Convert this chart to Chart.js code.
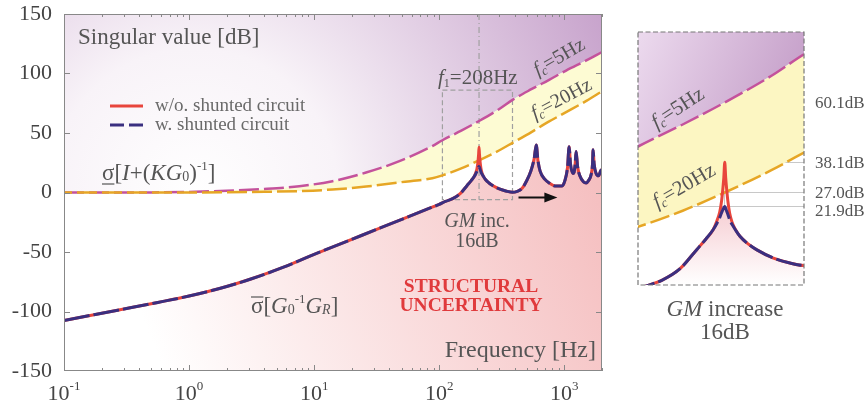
<!DOCTYPE html>
<html>
<head>
<meta charset="utf-8">
<script src="https://cdn.jsdelivr.net/npm/chart.js@4.4.1/dist/chart.umd.min.js"></script>
<style>
  body { margin: 0; background: #fff; }
  #mainBox { position: absolute; left: 0; top: 0; width: 620px; height: 405px; }
  #zoomBox { position: absolute; left: 620px; top: 0; width: 246px; height: 405px; }
</style>
</head>
<body>
<div id="mainBox"><canvas id="mainChart"></canvas></div>
<div id="zoomBox"><canvas id="zoomChart"></canvas></div>
<script>
// stability margin curves sigma_min[I+(KG0)^-1] for two cut-off frequencies
const freqMargin = [0.1, 0.5, 1, 2, 4, 7.6, 14, 26, 48, 88, 106, 150, 208, 300, 385, 550, 750, 1033, 1500, 2000];
const margin5Hz  = [0, 0.1, 0.5, 1.5, 3, 5.3, 9.5, 16.8, 26.3, 39, 43.9, 52, 60.1, 70, 77.8, 87, 94.5, 102.5, 111, 118];
const margin20Hz = [0, 0, 0, 0.2, 0.6, 1.2, 2.5, 5, 8.5, 12, 14.4, 20.3, 27, 35.3, 41.7, 51, 59.5, 67.5, 77, 85];

// sigma_max[G0^-1 GR], with and without the shunted circuit
const freqPlant = [0.1, 0.178, 0.316, 0.562, 1, 1.78, 3.16, 5.62, 10, 17.8, 31.6, 56.2, 80, 100, 112, 128, 147, 167, 180,
  190, 196, 200, 203, 205, 206.5, 208, 209.5, 211, 213, 216, 220, 225, 234, 250, 267, 302, 345, 385, 420,
  460, 495, 540, 575, 596, 615, 640, 700, 757, 850, 960, 1010, 1060, 1092, 1120, 1170, 1197, 1220, 1242, 1275,
  1330, 1420, 1493, 1560, 1637, 1680, 1698, 1730, 1795, 1880, 1968, 2000];
const withShunt = [-107.5, -102.5, -97.5, -92.4, -87, -80.5, -72.5, -63, -52, -41.5, -31, -20.5, -14, -10, -7.5, -5.2, -1, 5.9, 10,
  13.3, 15.8, 17.8, 19.6, 20.7, 21.4, 21.9, 21.2, 20.2, 19, 17, 15.3, 13.6, 10.9, 8, 5.9, 3, 1.1, 0.2, 1,
  3.5, 9, 18, 29, 40, 27, 18, 11, 8, 5.5, 5.5, 10, 21, 38.5, 24, 16, 17, 24, 34.5, 22,
  14, 9, 8, 10, 15, 24, 36, 24, 16, 14, 19, 19];
const withoutShunt = [-107.5, -102.5, -97.5, -92.4, -87, -80.5, -72.5, -63, -52, -41.5, -31, -20.5, -14, -10, -7.5, -5.2, -1, 5.9, 10,
  13.3, 16.8, 19.8, 24, 28.5, 32.5, 38.1, 32.5, 28.5, 24, 19.5, 16.2, 13.8, 10.9, 8, 5.9, 3, 1.1, 0.2, 1,
  3.5, 9, 18, 29, 40, 27, 18, 11, 8, 5.5, 5.5, 10, 21, 38.5, 24, 16, 17, 24, 34.5, 22,
  14, 9, 8, 10, 15, 24, 36, 24, 16, 14, 19, 19];

const decadeTicks = [0.1, 1, 10, 100, 1000];
const decadeExp = ['-1', '0', '1', '2', '3'];
const zoomLevels = [60.1, 38.1, 27.0, 21.9];
const f1 = 208;

const serif = '"Liberation Serif", "DejaVu Serif", serif';
Chart.defaults.font.family = serif;
Chart.defaults.color = '#444';

const toXY = (xs, ys) => xs.map((x, i) => ({ x, y: ys[i] }));
const T = (t, s, o = {}) => Object.assign({ t, s }, o);

function rich(ctx, x, y, parts, align = 'left') {
  const fontOf = p => `${p.i ? 'italic ' : ''}${p.b ? 'bold ' : ''}${p.s}px ${serif}`;
  let w = 0;
  const widths = parts.map(p => { ctx.font = fontOf(p); const pw = ctx.measureText(p.t).width; w += pw; return pw; });
  let cx = align === 'center' ? x - w / 2 : align === 'right' ? x - w : x;
  ctx.textAlign = 'left';
  ctx.textBaseline = 'alphabetic';
  const spans = [];
  parts.forEach((p, k) => {
    ctx.font = fontOf(p);
    ctx.fillText(p.t, cx, y + (p.dy || 0));
    spans.push([cx, cx + widths[k]]);
    cx += widths[k];
  });
  return spans;
}

function rotated(ctx, cx, cy, deg, parts) {
  ctx.save();
  ctx.translate(cx, cy);
  ctx.rotate(deg * Math.PI / 180);
  rich(ctx, 0, 0, parts, 'center');
  ctx.restore();
}

// ---------- fills ----------
const mainPurple = c => {
  const { ctx, chartArea: a, scales } = c.chart;
  if (!a) return 'transparent';
  const y0 = scales.y.getPixelForValue(0);
  const g = ctx.createRadialGradient(a.left + 130, y0, 0, a.left + 130, y0, 480);
  g.addColorStop(0, '#ffffff');
  g.addColorStop(0.3, '#f8f3f8');
  g.addColorStop(1, '#c29ac7');
  return g;
};
const mainPink = c => {
  const { ctx, chartArea: a, scales } = c.chart;
  if (!a) return 'transparent';
  const g = ctx.createLinearGradient(a.left + 100, a.bottom, a.right, scales.y.getPixelForValue(0));
  g.addColorStop(0, '#ffffff');
  g.addColorStop(1, '#f5bfc0');
  return g;
};
const zoomPurple = c => {
  const { ctx, chartArea: a, scales } = c.chart;
  if (!a) return 'transparent';
  const g = ctx.createLinearGradient(a.left, a.top, a.right, scales.y.getPixelForValue(60));
  g.addColorStop(0, '#ecdaee');
  g.addColorStop(1, '#c39cc7');
  return g;
};
const zoomPink = c => {
  const { ctx, chartArea: a, scales } = c.chart;
  if (!a) return 'transparent';
  const g = ctx.createLinearGradient(0, scales.y.getPixelForValue(22), 0, a.bottom);
  g.addColorStop(0, '#f6cdd2');
  g.addColorStop(1, '#ffffff');
  return g;
};

function makeDatasets(purple, yellow, pink) {
  return [
    { label: 'w. shunted circuit', data: toXY(freqPlant, withShunt), borderColor: '#3a2f80', borderWidth: 3,
      borderDash: [26, 4], fill: 'start', backgroundColor: pink, order: 0 },
    { label: 'w/o. shunted circuit', data: toXY(freqPlant, withoutShunt), borderColor: '#e8453c', borderWidth: 3,
      fill: false, order: 1 },
    { label: 'fc=5Hz', data: toXY(freqMargin, margin5Hz), borderColor: '#c4529c', borderWidth: 2.5,
      borderDash: [20, 5], fill: 'end', backgroundColor: purple, order: 3 },
    { label: 'fc=20Hz', data: toXY(freqMargin, margin20Hz), borderColor: '#e6a625', borderWidth: 2.5,
      borderDash: [20, 5], borderDashOffset: 12, fill: '-1', backgroundColor: yellow, order: 2 }
  ];
}

const commonOpts = {
  responsive: true,
  maintainAspectRatio: false,
  animation: false,
  elements: { point: { radius: 0 }, line: { cubicInterpolationMode: 'monotone' } },
  plugins: { legend: { display: false }, tooltip: { enabled: false }, filler: { drawTime: 'beforeDatasetsDraw' } }
};

const noPad = s => { s.paddingTop = 0; s.paddingBottom = 0; s.paddingLeft = 0; s.paddingRight = 0; };

// ---------- main chart decorations ----------
const mainDecor = {
  id: 'mainDecor',
  beforeDatasetsDraw(chart) {
    const { ctx, scales: { x, y } } = chart;
    ctx.save();
    ctx.strokeStyle = '#a0a0a0';
    ctx.lineWidth = 1.2;
    // zoom window
    ctx.setLineDash([5, 3]);
    const bx0 = x.getPixelForValue(106), bx1 = x.getPixelForValue(385);
    const by0 = y.getPixelForValue(86), by1 = y.getPixelForValue(-6);
    ctx.strokeRect(bx0, by0, bx1 - bx0, by1 - by0);
    // f1 marker
    ctx.setLineDash([6, 3, 1, 3]);
    ctx.beginPath();
    ctx.moveTo(x.getPixelForValue(f1), y.getPixelForValue(150));
    ctx.lineTo(x.getPixelForValue(f1), by1);
    ctx.stroke();
    ctx.restore();
  },
  afterDraw(chart) {
    const { ctx, chartArea: a, scales: { x, y } } = chart;
    ctx.save();
    // frame and inward ticks
    ctx.strokeStyle = '#888';
    ctx.lineWidth = 1;
    ctx.strokeRect(a.left + 0.5, a.top + 0.5, a.width - 1, a.height - 1);
    ctx.beginPath();
    for (let e = -1; e <= 3; e++) {
      for (let m = 1; m <= 9; m++) {
        const f = m * Math.pow(10, e);
        if (f > x.max) continue;
        const px = Math.round(x.getPixelForValue(f)) + 0.5;
        const len = m === 1 ? 6 : 3;
        ctx.moveTo(px, a.bottom); ctx.lineTo(px, a.bottom - len);
        ctx.moveTo(px, a.top); ctx.lineTo(px, a.top + len);
      }
    }
    for (let v = -100; v <= 100; v += 50) {
      const py = Math.round(y.getPixelForValue(v)) + 0.5;
      ctx.moveTo(a.left, py); ctx.lineTo(a.left + 6, py);
      ctx.moveTo(a.right, py); ctx.lineTo(a.right - 6, py);
    }
    ctx.stroke();

    // decade labels
    ctx.fillStyle = '#444';
    decadeTicks.forEach((f, k) => {
      rich(ctx, x.getPixelForValue(f), 400, [T('10', 22), T(decadeExp[k], 13, { dy: -10 })], 'center');
    });

    ctx.fillStyle = '#555';
    rich(ctx, a.left + 14, 44, [T('Singular value [dB]', 23)]);
    rich(ctx, a.right - 6, 357, [T('Frequency [Hz]', 24)], 'right');

    // legend
    ctx.lineWidth = 3;
    ctx.strokeStyle = '#e8453c';
    ctx.beginPath(); ctx.moveTo(110, 106); ctx.lineTo(143, 106); ctx.stroke();
    ctx.strokeStyle = '#3a2f80';
    ctx.setLineDash([14, 5]);
    ctx.beginPath(); ctx.moveTo(110, 125); ctx.lineTo(143, 125); ctx.stroke();
    ctx.setLineDash([]);
    ctx.fillStyle = '#6a6a6a';
    rich(ctx, 155, 111, [T('w/o. shunted circuit', 19)]);
    rich(ctx, 155, 130, [T('w. shunted circuit', 19)]);

    // curve names
    ctx.fillStyle = '#555';
    ctx.strokeStyle = '#555';
    ctx.lineWidth = 1.2;
    let sp = rich(ctx, 102, 180, [T('σ', 23), T('[', 23), T('I', 23, { i: 1 }), T('+(', 23), T('K', 23, { i: 1 }),
      T('G', 23, { i: 1 }), T('0', 14, { dy: 1 }), T(')', 23), T('-1', 13, { dy: -10 }), T(']', 23)]);
    ctx.beginPath(); ctx.moveTo(sp[0][0], 184); ctx.lineTo(sp[0][1], 184); ctx.stroke();
    sp = rich(ctx, 251, 313, [T('σ', 23), T('[', 23), T('G', 23, { i: 1 }), T('0', 14, { dy: 1 }), T('-1', 13, { dy: -10 }),
      T('G', 23, { i: 1 }), T('R', 14, { i: 1, dy: 1 }), T(']', 23)]);
    ctx.beginPath(); ctx.moveTo(sp[0][0], 297); ctx.lineTo(sp[0][1], 297); ctx.stroke();

    ctx.fillStyle = '#e03a3c';
    rich(ctx, 471, 292, [T('STRUCTURAL', 19.5, { b: 1 })], 'center');
    rich(ctx, 471, 311, [T('UNCERTAINTY', 19.5, { b: 1 })], 'center');

    ctx.fillStyle = '#555';
    rich(ctx, 438, 84, [T('f', 21, { i: 1 }), T('1', 12, { dy: 3 }), T('=208Hz', 21)]);
    rich(ctx, 477, 227, [T('GM', 20, { i: 1 }), T(' inc.', 20)], 'center');
    rich(ctx, 477, 247, [T('16dB', 20)], 'center');
    rotated(ctx, 562, 62, -30, [T('f', 20, { i: 1 }), T('c', 13, { i: 1, dy: 3 }), T('=5Hz', 20)]);
    rotated(ctx, 564, 104, -28, [T('f', 20, { i: 1 }), T('c', 13, { i: 1, dy: 3 }), T('=20Hz', 20)]);

    // frequency shift arrow
    const ax0 = x.getPixelForValue(430), ax1 = x.getPixelForValue(880), ay = y.getPixelForValue(-4.2);
    ctx.strokeStyle = '#111';
    ctx.fillStyle = '#111';
    ctx.lineWidth = 2;
    ctx.beginPath(); ctx.moveTo(ax0, ay); ctx.lineTo(ax1 - 10, ay); ctx.stroke();
    ctx.beginPath(); ctx.moveTo(ax1, ay); ctx.lineTo(ax1 - 13, ay - 5); ctx.lineTo(ax1 - 13, ay + 5); ctx.closePath(); ctx.fill();
    ctx.restore();
  }
};

new Chart(document.getElementById('mainChart'), {
  type: 'line',
  data: { datasets: makeDatasets(mainPurple, '#fdfbd3', mainPink) },
  options: Object.assign({}, commonOpts, {
    layout: { padding: { top: 14, right: 18, left: 0, bottom: 0 } },
    scales: {
      x: { type: 'logarithmic', min: 0.1, max: 2000, ticks: { display: false }, grid: { display: false },
        border: { display: false }, afterFit: s => { s.height = 34; noPad(s); } },
      y: { min: -150, max: 150, ticks: { stepSize: 50, padding: 12, font: { size: 22 }, color: '#444' },
        grid: { display: false, drawTicks: false }, border: { display: false },
        afterFit: s => { s.width = 64; noPad(s); } }
    }
  }),
  plugins: [mainDecor]
});

// ---------- zoomed view around f1 ----------
const zoomDecor = {
  id: 'zoomDecor',
  afterDraw(chart) {
    const { ctx, chartArea: a, scales: { y } } = chart;
    ctx.save();
    ctx.strokeStyle = '#777';
    ctx.lineWidth = 1.2;
    ctx.setLineDash([5, 2.5]);
    ctx.strokeRect(a.left, a.top, a.width, a.height);
    ctx.setLineDash([]);
    ctx.fillStyle = '#555';
    const shift = [0, 0, -1, 4];
    zoomLevels.forEach((v, k) => {
      rich(ctx, a.right + 11, y.getPixelForValue(v) + 6 + shift[k], [T(v.toFixed(1) + 'dB', 17)]);
    });
    rotated(ctx, 61, 113, -33, [T('f', 21, { i: 1 }), T('c', 13, { i: 1, dy: 3 }), T('=5Hz', 21)]);
    rotated(ctx, 67, 191, -30, [T('f', 21, { i: 1 }), T('c', 13, { i: 1, dy: 3 }), T('=20Hz', 21)]);
    rich(ctx, 105, 316, [T('GM', 23, { i: 1 }), T(' increase', 23)], 'center');
    rich(ctx, 105, 339, [T('16dB', 23)], 'center');
    ctx.restore();
  }
};

new Chart(document.getElementById('zoomChart'), {
  type: 'line',
  data: { datasets: makeDatasets(zoomPurple, '#fcf6c2', zoomPink) },
  options: Object.assign({}, commonOpts, {
    layout: { padding: { top: 32, right: 0, left: 18, bottom: 0 } },
    scales: {
      x: { type: 'logarithmic', min: 106, max: 385, ticks: { display: false },
        afterBuildTicks: s => { s.ticks = [{ value: f1 }]; },
        grid: { color: '#c8c8c8', drawTicks: false }, border: { display: false },
        afterFit: s => { s.height = 120; noPad(s); } },
      y: { position: 'right', min: -7, max: 86, ticks: { display: false },
        afterBuildTicks: s => { s.ticks = zoomLevels.map(v => ({ value: v })); },
        grid: { color: '#c8c8c8', drawTicks: false }, border: { display: false },
        afterFit: s => { s.width = 62; noPad(s); } }
    }
  }),
  plugins: [zoomDecor]
});
</script>
</body>
</html>
